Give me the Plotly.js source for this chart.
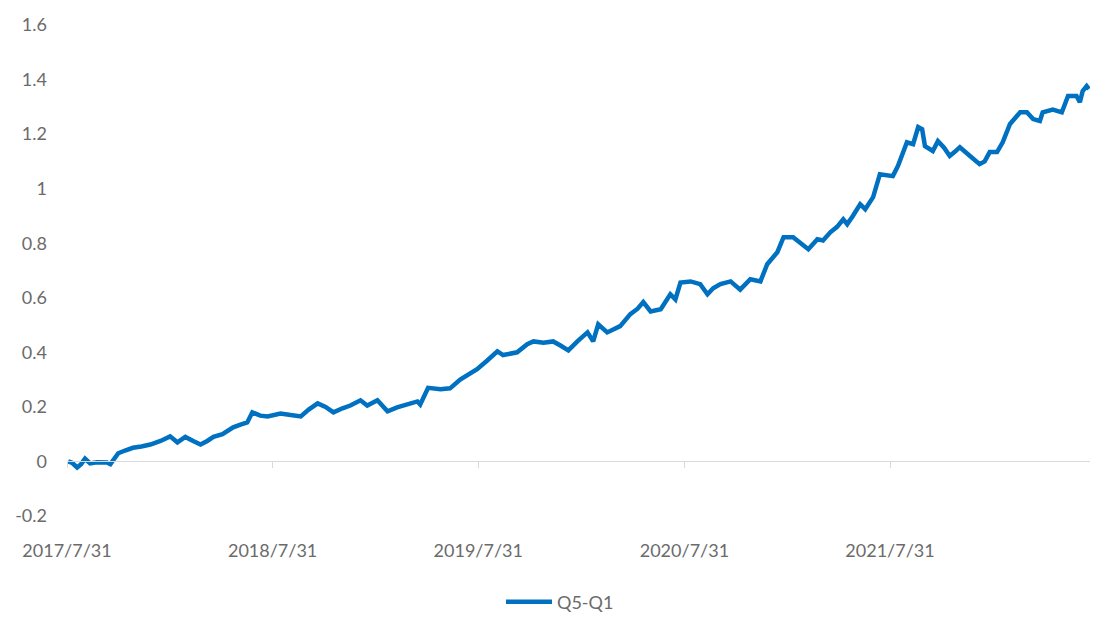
<!DOCTYPE html>
<html>
<head>
<meta charset="utf-8">
<script src="https://cdn.plot.ly/plotly-3.0.1.min.js"></script>
<style>html,body{margin:0;padding:0;background:#fff;}#chart{width:1098px;height:618px;}</style>
</head>
<body>
<div id="chart"></div>
<script>
var seriesName = "Q5-Q1";
var dates = [
"2017-08-02","2017-08-09","2017-08-18","2017-08-25","2017-09-01","2017-09-10","2017-09-22","2017-10-03","2017-10-10","2017-10-16",
"2017-10-30","2017-11-11","2017-11-25","2017-12-10","2017-12-26","2018-01-13","2018-01-30","2018-02-12","2018-02-26","2018-03-12",
"2018-03-25","2018-04-06","2018-04-17","2018-05-03","2018-05-22","2018-06-04","2018-06-16","2018-06-25","2018-07-09","2018-07-22",
"2018-08-04","2018-08-14","2018-09-01","2018-09-19","2018-10-03","2018-10-19","2018-11-02","2018-11-16","2018-12-02","2018-12-16",
"2019-01-03","2019-01-15","2019-02-02","2019-02-20","2019-03-09","2019-03-27","2019-04-14","2019-04-19","2019-05-03","2019-05-25",
"2019-06-11","2019-06-29","2019-07-13","2019-07-29","2019-08-16","2019-09-03","2019-09-13","2019-09-26","2019-10-08","2019-10-26",
"2019-11-06","2019-11-24","2019-12-11","2019-12-24","2020-01-07","2020-01-23","2020-02-10","2020-02-20","2020-02-29","2020-03-16",
"2020-04-08","2020-04-26","2020-05-09","2020-05-19","2020-06-01","2020-06-19","2020-07-06","2020-07-15","2020-07-24","2020-08-11",
"2020-08-28","2020-09-10","2020-09-20","2020-10-03","2020-10-21","2020-11-07","2020-11-25","2020-12-13","2020-12-25","2021-01-12",
"2021-01-23","2021-02-09","2021-02-22","2021-03-08","2021-03-24","2021-04-03","2021-04-16","2021-04-28","2021-05-09","2021-05-16",
"2021-05-26","2021-06-08","2021-06-17","2021-07-01","2021-07-13","2021-07-26","2021-08-05","2021-08-14","2021-08-30","2021-09-10",
"2021-09-19","2021-09-26","2021-10-01","2021-10-15","2021-10-24","2021-11-04","2021-11-14","2021-11-23","2021-12-02","2021-12-20",
"2022-01-06","2022-01-15","2022-01-24","2022-02-06","2022-02-16","2022-03-01","2022-03-19","2022-03-31","2022-04-11","2022-04-23",
"2022-04-28","2022-05-16","2022-06-01","2022-06-12","2022-06-27","2022-07-03","2022-07-08","2022-07-15","2022-07-19"
];
var values = [
0.000,-0.005,-0.022,-0.010,0.010,-0.007,-0.003,-0.002,-0.004,-0.010,
0.030,0.040,0.050,0.055,0.062,0.075,0.092,0.070,0.090,0.075,
0.062,0.075,0.090,0.100,0.125,0.135,0.143,0.180,0.168,0.165,
0.172,0.176,0.170,0.165,0.190,0.213,0.200,0.180,0.195,0.205,
0.224,0.205,0.224,0.184,0.198,0.210,0.220,0.209,0.270,0.265,
0.268,0.300,0.320,0.338,0.370,0.404,0.390,0.395,0.400,0.430,
0.440,0.435,0.440,0.425,0.407,0.440,0.473,0.440,0.503,0.473,
0.496,0.540,0.560,0.584,0.550,0.558,0.613,0.594,0.656,0.660,
0.650,0.613,0.635,0.650,0.660,0.630,0.668,0.660,0.723,0.767,
0.822,0.822,0.800,0.778,0.815,0.810,0.840,0.860,0.888,0.870,
0.900,0.943,0.925,0.969,1.053,1.050,1.046,1.083,1.170,1.163,
1.226,1.218,1.156,1.138,1.174,1.150,1.120,1.135,1.152,1.120,
1.090,1.100,1.134,1.134,1.170,1.237,1.280,1.280,1.255,1.248,
1.280,1.290,1.280,1.340,1.340,1.317,1.358,1.376,1.365
];
var xTickVals = ["2017-07-31","2018-07-31","2019-07-31","2020-07-31","2021-07-31"];
var xTickText = ["2017/7/31","2018/7/31","2019/7/31","2020/7/31","2021/7/31"];
var yTickVals = [-0.2,0,0.2,0.4,0.6,0.8,1,1.2,1.4,1.6];
var yTickText = ["-0.2","0","0.2","0.4","0.6","0.8","1","1.2","1.4","1.6"];

var xRange = ["2017-07-31","2022-07-21"];
var labelFont = {family:"Lato, 'Open Sans', sans-serif", size:18, color:"#6b6b6b"};

var traces = [
  {x:dates, y:values, type:"scatter", mode:"lines", name:seriesName,
   line:{color:"#0070C0", width:4.5}, xaxis:"x", yaxis:"y"},
  {x:[], y:[], type:"scatter", mode:"lines", showlegend:false, hoverinfo:"skip",
   xaxis:"x2", yaxis:"y"}
];

var layout = {
  width:1098, height:618,
  margin:{l:67, r:8, t:25, b:102},
  paper_bgcolor:"#ffffff", plot_bgcolor:"#ffffff",
  showlegend:true,
  legend:{orientation:"h", xref:"container", x:0.51, xanchor:"center",
          yref:"container", y:0.026, yanchor:"middle",
          font:labelFont, itemwidth:46},
  xaxis:{type:"date", range:xRange, tickmode:"array", tickvals:xTickVals, ticktext:xTickText,
         showgrid:false, zeroline:false, showline:false, ticks:"", tickfont:labelFont,
         ticklabelstandoff:22, automargin:false},
  xaxis2:{type:"date", range:xRange, overlaying:"x", anchor:"free", position:0.2/1.8,
          tickmode:"array", tickvals:xTickVals, showticklabels:false,
          showgrid:false, zeroline:false, showline:true, linecolor:"#d9d9d9", linewidth:1,
          ticks:"outside", ticklen:6, tickcolor:"#d9d9d9", tickwidth:1, automargin:false},
  yaxis:{range:[-0.2,1.6], tickmode:"array", tickvals:yTickVals, ticktext:yTickText,
         showgrid:false, zeroline:false, showline:false, ticks:"", tickfont:labelFont,
         ticklabelstandoff:19, automargin:false}
};

Plotly.newPlot("chart", traces, layout, {displayModeBar:false, staticPlot:true});
</script>
</body>
</html>
